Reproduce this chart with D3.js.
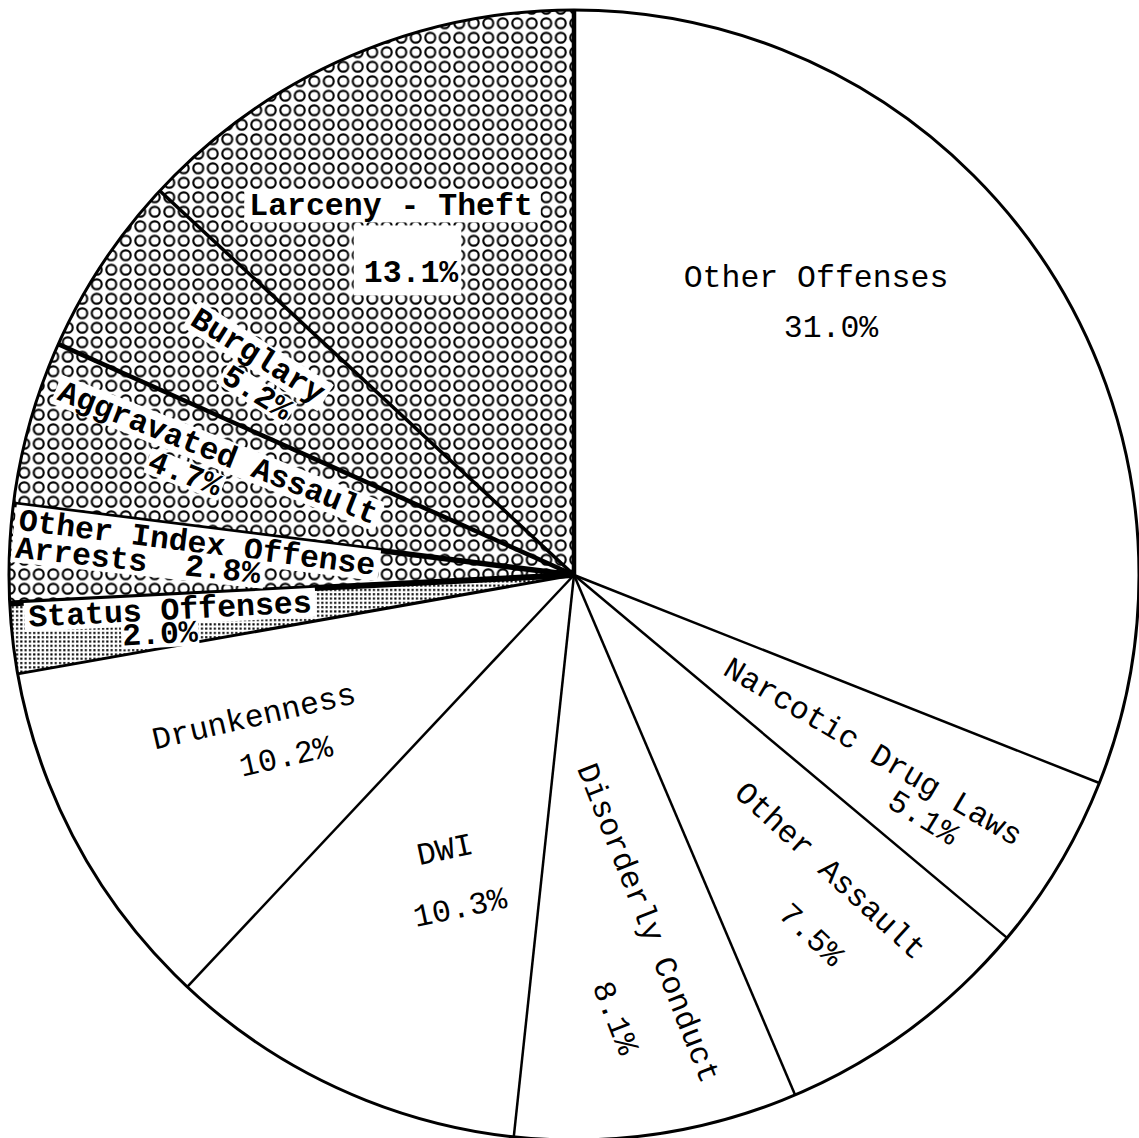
<!DOCTYPE html>
<html><head><meta charset="utf-8">
<script src="https://cdn.jsdelivr.net/npm/d3@7"></script>
<style>html,body{margin:0;padding:0;background:#fff;} svg{display:block}</style>
</head><body>
<svg id="chart" width="1139" height="1138"></svg>
<script>
// ---- data ----
const categories = ["Other Offenses","Narcotic Drug Laws","Other Assault","Disorderly Conduct","DWI","Drunkenness","Status Offenses","Other Index Offense Arrests","Aggravated Assault","Burglary","Larceny - Theft"];
const percents = [31.0, 5.1, 7.5, 8.1, 10.3, 10.2, 2.0, 2.8, 4.7, 5.2, 13.1];
const groupKind = ["other","other","other","other","other","other","status","index","index","index","index"];
const percentLabels = percents.map(v => v.toFixed(1) + "%");

// ---- style / layout (not data) ----
const W = 1139, H = 1138, cx = 574, cy = 575, R = 565;
const startEdgeWidth = [4.5, 2.5, 2.5, 2.5, 2.5, 2.5, 3, 6, 5.5, 4.5, 3.5];
// [slice, text ("name" | "pct" | custom), dx, dy, rotation, [padL, padR, padT, padB] or null]
const labelLayout = [
  [0, "name", 242, -297, 0, null],
  [0, "pct", 257, -247, 0, null],
  [1, "name", 299, 177, 30.5, null],
  [1, "pct", 349, 243, 31.5, null],
  [2, "name", 256, 296, 42.5, null],
  [2, "pct", 237, 360, 43.5, null],
  [3, "name", 74, 348, 68.5, null],
  [3, "pct", 41, 443, 68.5, null],
  [4, "name", -129, 275, -12, null],
  [4, "pct", -114, 333, -12, null],
  [5, "name", -320, 142, -13, null],
  [5, "pct", -288, 182, -13, null],
  [6, "name", -404, 35, -3, [4, 4, -2, -4]],
  [6, "pct", -414, 59, -3, [1, 1, -4, -5]],
  [7, "Other Index Offense", -377, -32, 7.2, [4, 4, -1, -3]],
  [7, "Arrests  pct", -436, -14, 6, [4, 4, -2, -4]],
  [8, "Aggravated Assault", -356, -122, 21.6, [4, 4, -1, -3]],
  [8, "pct", -389, -101, 21, [2, 2, -4, -5]],
  [9, "name", -316, -219, 32, [4, 4, -1, -3]],
  [9, "pct", -317, -182, 32, [2, 2, -4, -5]],
  [10, "name", -183, -369, 0, [5, 8, 0, -2]],
  [10, "pct", -163, -302, 0, [10, 3, 31, 4]]
];

const svg = d3.select("#chart");
svg.append("rect").attr("width", W).attr("height", H).attr("fill", "#fff");

const defs = svg.append("defs");
const pc = defs.append("pattern").attr("id", "circles").attr("patternUnits", "userSpaceOnUse")
  .attr("width", 14.5).attr("height", 14.5).attr("x", cx).attr("y", cy - 3);
pc.append("rect").attr("width", 14.5).attr("height", 14.5).attr("fill", "#fff");
pc.append("circle").attr("cx", 7.25).attr("cy", 7.25).attr("r", 5.0)
  .attr("fill", "none").attr("stroke", "#000").attr("stroke-width", 2.1);
const ps = defs.append("pattern").attr("id", "stipple").attr("patternUnits", "userSpaceOnUse")
  .attr("width", 4.3).attr("height", 4.3);
ps.append("rect").attr("width", 4.3).attr("height", 4.3).attr("fill", "#fff");
ps.append("rect").attr("x", 1).attr("y", 1).attr("width", 2.1).attr("height", 2.1).attr("fill", "#000");

const pie = d3.pie().sort(null).value(d => d).startAngle(0).endAngle(2 * Math.PI);
const arcs = pie(percents);
const arc = d3.arc().innerRadius(0).outerRadius(R);

const g = svg.append("g").attr("transform", `translate(${cx},${cy})`);
const fillFor = k => k === "index" ? "url(#circles)" : (k === "status" ? "url(#stipple)" : "#fff");

g.selectAll("path.slice").data(arcs).join("path")
  .attr("class", "slice")
  .attr("d", arc)
  .attr("fill", (d, i) => fillFor(groupKind[i]))
  .attr("stroke", "none");

// outer circle
g.append("circle").attr("r", R).attr("fill", "none").attr("stroke", "#000").attr("stroke-width", 3);

// radial boundaries
g.selectAll("line.edge").data(arcs).join("line")
  .attr("class", "edge")
  .attr("x1", 0).attr("y1", 0)
  .attr("x2", d => R * Math.sin(d.startAngle))
  .attr("y2", d => -R * Math.cos(d.startAngle))
  .attr("stroke", "#000")
  .attr("stroke-width", (d, i) => startEdgeWidth[i])
  .attr("stroke-linecap", "butt");

// labels
const fontFamily = "'Liberation Mono','Courier New',Courier,monospace";
labelLayout.forEach(([si, txt, dx, dy, rot, box]) => {
  let t;
  if (txt === "name") t = categories[si];
  else if (txt === "pct") t = percentLabels[si];
  else t = txt.replace("pct", percentLabels[si]);
  const isIndex = groupKind[si] !== "other";
  const lg = g.append("g").attr("transform", `translate(${dx},${dy}) rotate(${rot})`);
  const rect = lg.append("rect").attr("fill", "#fff");
  const te = lg.append("text")
    .attr("text-anchor", "middle")
    .attr("dy", "0.3em")
    .attr("font-family", fontFamily)
    .attr("font-size", 31.5)
    .attr("font-weight", isIndex ? "bold" : "normal")
    .attr("fill", "#000")
    .style("white-space", "pre")
    .text(t);
  if (box) {
    const bb = te.node().getBBox();
    rect.attr("x", bb.x - box[0]).attr("y", bb.y - box[2])
      .attr("width", bb.width + box[0] + box[1])
      .attr("height", bb.height + box[2] + box[3]);
  } else {
    rect.remove();
  }
});
</script>
</body></html>
